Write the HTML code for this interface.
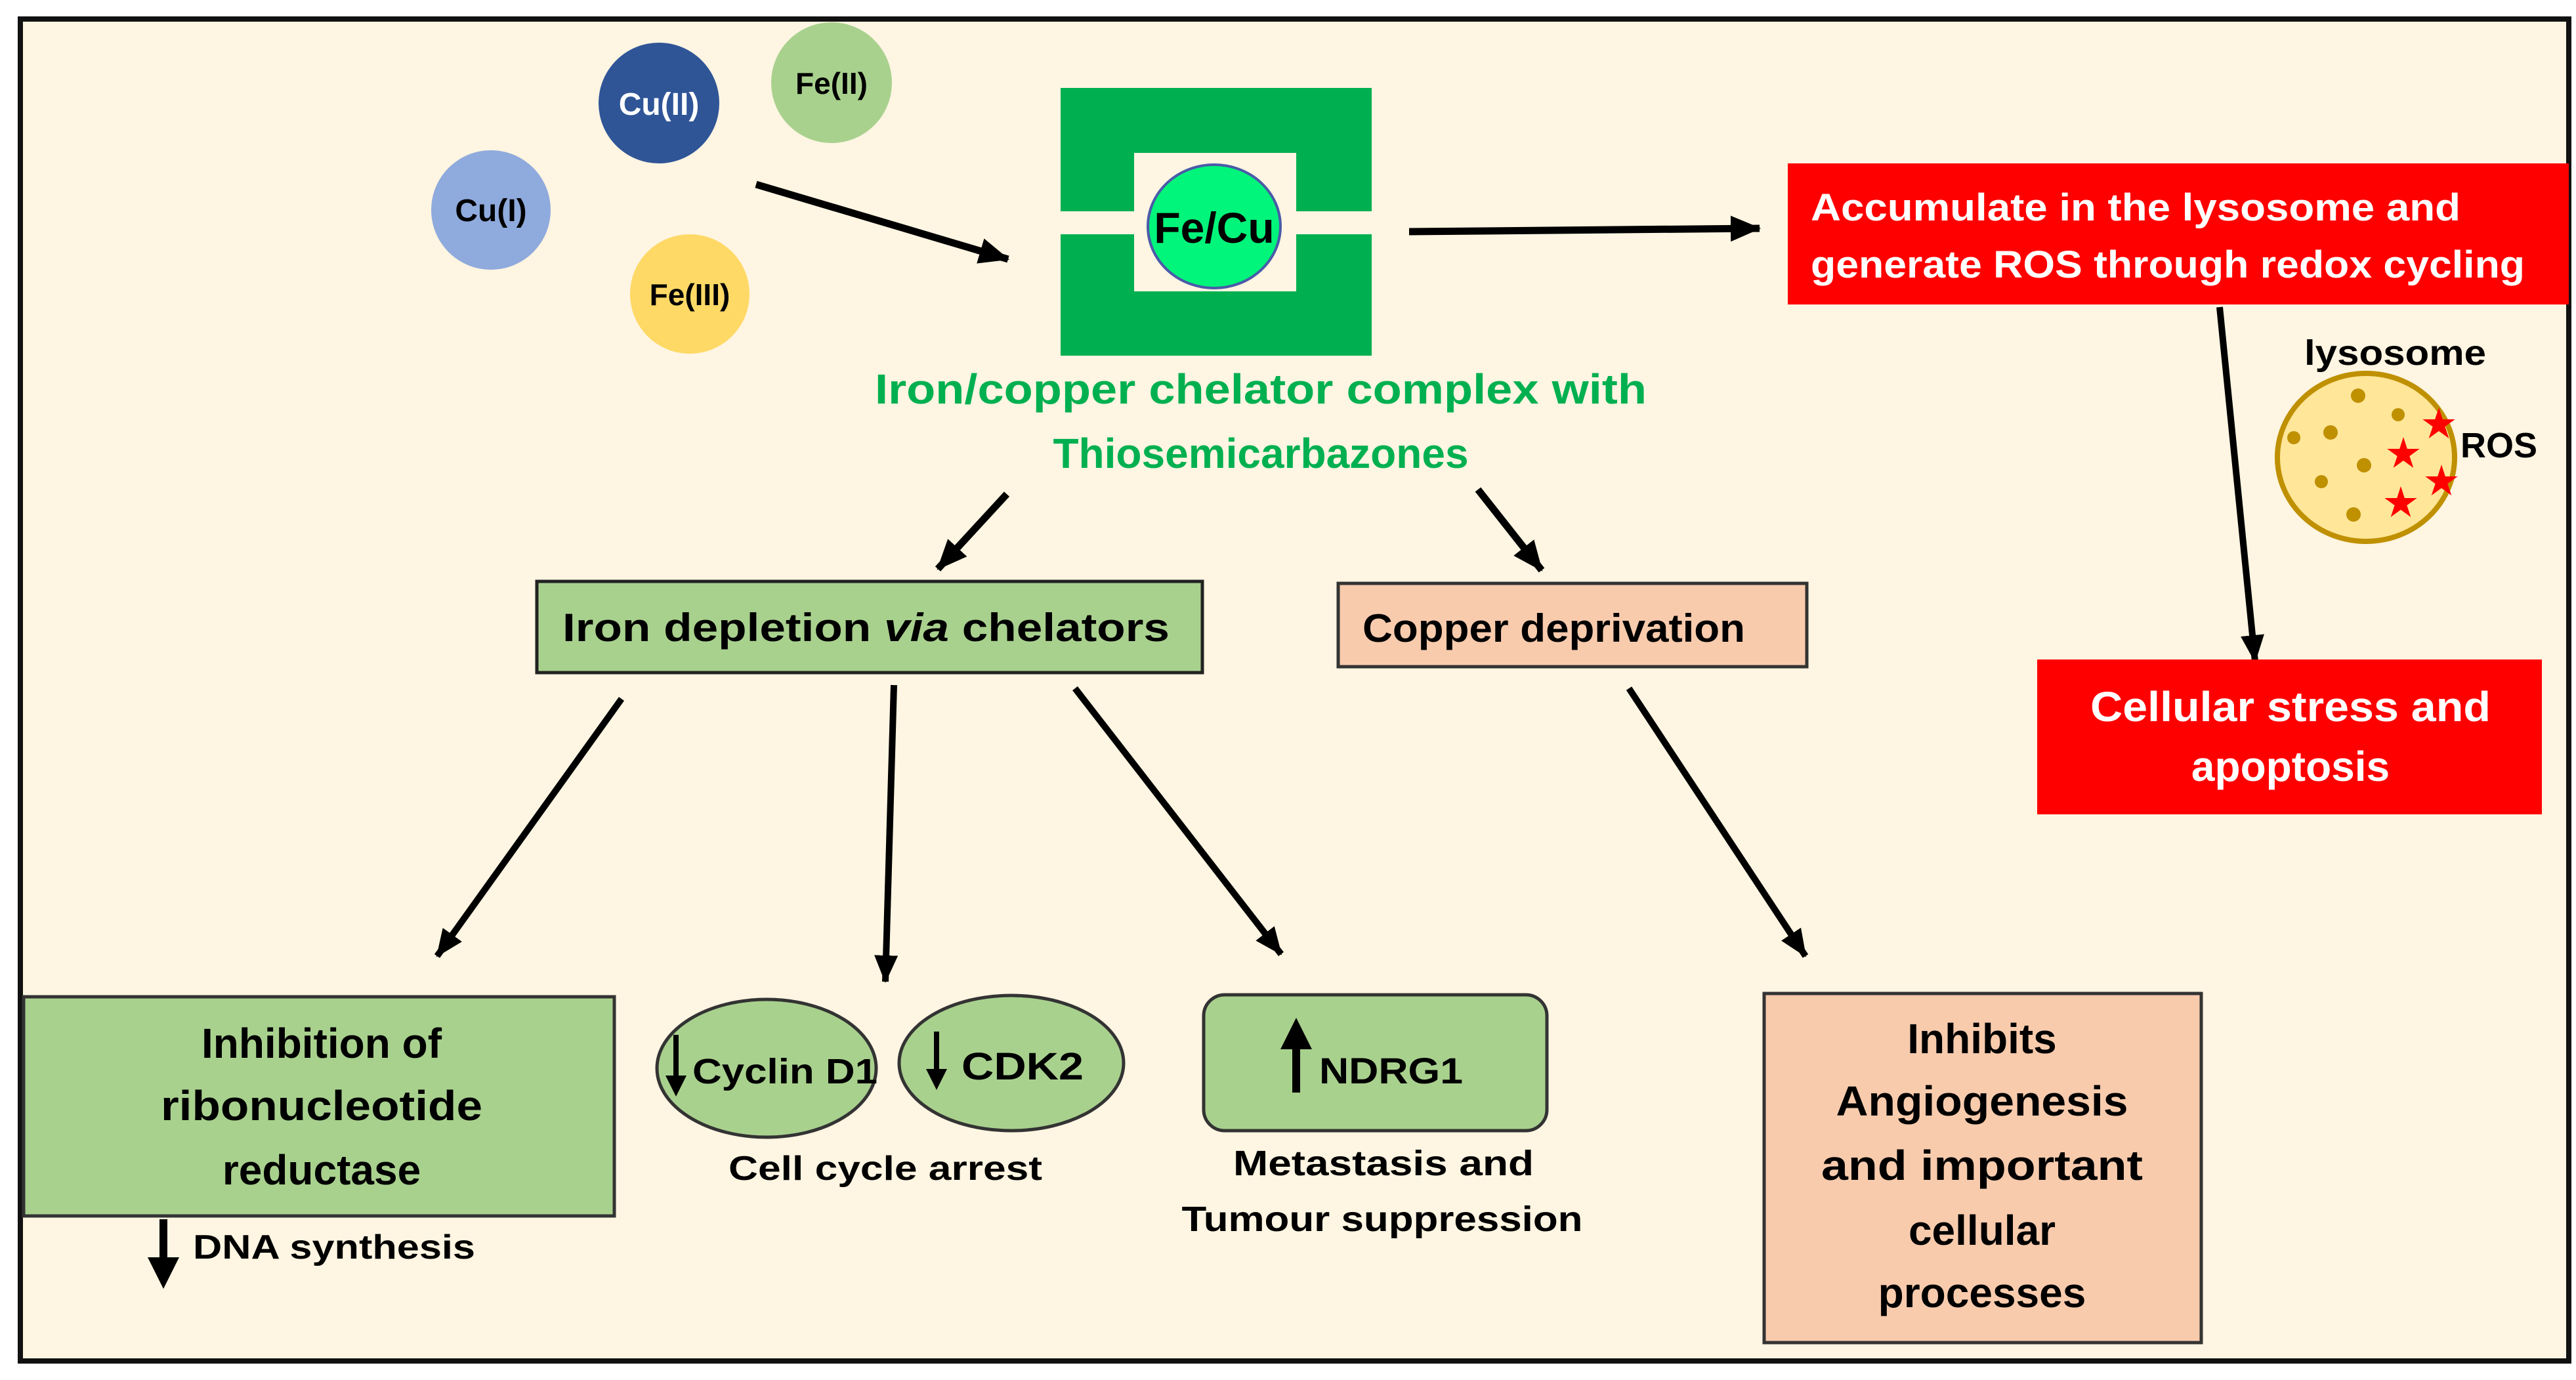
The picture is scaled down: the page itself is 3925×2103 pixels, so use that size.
<!DOCTYPE html>
<html><head><meta charset="utf-8"><style>
html,body{margin:0;padding:0;background:#fff}
svg{display:block}
text{font-family:"Liberation Sans",sans-serif;font-weight:bold}
</style></head><body>
<svg width="3925" height="2103" viewBox="0 0 3925 2103" xmlns="http://www.w3.org/2000/svg">
<defs>
<marker id="ah" markerWidth="4.2" markerHeight="3.6" refX="4" refY="1.8" orient="auto" markerUnits="strokeWidth">
<path d="M0,0 L4.2,1.8 L0,3.6 Z" fill="#000"/></marker>
<marker id="ah2" markerWidth="4" markerHeight="4" refX="2" refY="2" orient="auto" markerUnits="strokeWidth">
<path d="M0,0 L4,2 L0,4 Z" fill="#000"/></marker>
</defs>
<rect x="0" y="0" width="3925" height="2103" fill="#fff"/>
<rect x="31" y="29" width="3883" height="2045" fill="#fef5e2" stroke="#111" stroke-width="8"/>

<!-- ions -->
<circle cx="1004" cy="157" r="92" fill="#2f5597"/>
<text x="1004" y="175" font-size="48" fill="#fff" text-anchor="middle">Cu(II)</text>
<circle cx="1267" cy="126" r="92" fill="#a9d18e"/>
<text x="1267" y="143" font-size="46" fill="#000" text-anchor="middle">Fe(II)</text>
<circle cx="748" cy="320" r="91" fill="#8faadc"/>
<text x="748" y="337" font-size="48" fill="#000" text-anchor="middle">Cu(I)</text>
<circle cx="1051" cy="448" r="91" fill="#ffd966"/>
<text x="1051" y="465" font-size="46" fill="#000" text-anchor="middle">Fe(III)</text>

<line x1="1152" y1="281" x2="1536" y2="395" stroke="#000" stroke-width="11" marker-end="url(#ah)"/>

<!-- chelator -->
<rect x="1616" y="134" width="474" height="408" fill="#00b050"/>
<rect x="1728" y="233" width="247" height="211" fill="#fef5e2"/>
<rect x="1616" y="322" width="112" height="35" fill="#fef5e2"/>
<rect x="1975" y="322" width="115" height="35" fill="#fef5e2"/>
<ellipse cx="1850" cy="345" rx="101" ry="94" fill="#00f57a" stroke="#4a5aa8" stroke-width="4"/>
<text x="1850" y="370" font-size="66" fill="#000" text-anchor="middle">Fe/Cu</text>

<text x="1333" y="615" font-size="64" fill="#00b050" textLength="1176" lengthAdjust="spacingAndGlyphs">Iron/copper chelator complex with</text>
<text x="1921" y="713" font-size="64" fill="#00b050" text-anchor="middle">Thiosemicarbazones</text>

<line x1="2147" y1="353" x2="2681" y2="348" stroke="#000" stroke-width="11" marker-end="url(#ah)"/>

<rect x="2724" y="249" width="1190" height="215" fill="#ff0000"/>
<text x="2759" y="336" font-size="58" fill="#fff" textLength="990" lengthAdjust="spacingAndGlyphs">Accumulate in the lysosome and</text>
<text x="2759" y="423" font-size="58" fill="#fff" textLength="1088" lengthAdjust="spacingAndGlyphs">generate ROS through redox cycling</text>

<line x1="3382" y1="468" x2="3436" y2="1008" stroke="#000" stroke-width="10" marker-end="url(#ah)"/>

<rect x="3104" y="1005" width="769" height="236" fill="#ff0000"/>
<text x="3490" y="1099" font-size="64" fill="#fff" text-anchor="middle" textLength="610" lengthAdjust="spacingAndGlyphs">Cellular stress and</text>
<text x="3490" y="1190" font-size="64" fill="#fff" text-anchor="middle">apoptosis</text>

<!-- lysosome -->
<text x="3511" y="556" font-size="54" fill="#000" textLength="277" lengthAdjust="spacingAndGlyphs">lysosome</text>
<ellipse cx="3605" cy="697" rx="135" ry="128" fill="#ffe699" stroke="#bf9000" stroke-width="8"/>
<g fill="#bf9000">
<circle cx="3593" cy="603" r="11"/><circle cx="3654" cy="632" r="10"/><circle cx="3495" cy="667" r="10"/>
<circle cx="3551" cy="659" r="11"/><circle cx="3602" cy="709" r="11"/><circle cx="3537" cy="734" r="10"/><circle cx="3586" cy="784" r="11"/>
</g>
<g fill="#ff0000">
<path transform="translate(3716,647) scale(26)" d="M0,-1 L0.225,-0.31 L0.95,-0.31 L0.36,0.12 L0.59,0.81 L0,0.38 L-0.59,0.81 L-0.36,0.12 L-0.95,-0.31 L-0.225,-0.31Z"/>
<path transform="translate(3662,692) scale(26)" d="M0,-1 L0.225,-0.31 L0.95,-0.31 L0.36,0.12 L0.59,0.81 L0,0.38 L-0.59,0.81 L-0.36,0.12 L-0.95,-0.31 L-0.225,-0.31Z"/>
<path transform="translate(3720,734) scale(26)" d="M0,-1 L0.225,-0.31 L0.95,-0.31 L0.36,0.12 L0.59,0.81 L0,0.38 L-0.59,0.81 L-0.36,0.12 L-0.95,-0.31 L-0.225,-0.31Z"/>
<path transform="translate(3658,767) scale(26)" d="M0,-1 L0.225,-0.31 L0.95,-0.31 L0.36,0.12 L0.59,0.81 L0,0.38 L-0.59,0.81 L-0.36,0.12 L-0.95,-0.31 L-0.225,-0.31Z"/>
</g>
<text x="3749" y="697" font-size="54" fill="#000">ROS</text>

<!-- arrows from title -->
<line x1="1534" y1="753" x2="1429" y2="867" stroke="#000" stroke-width="11" marker-end="url(#ah)"/>
<line x1="2252" y1="746" x2="2349" y2="869" stroke="#000" stroke-width="11" marker-end="url(#ah)"/>

<rect x="818" y="886" width="1014" height="139" fill="#a9d18e" stroke="#222" stroke-width="5"/>
<text x="857" y="977" font-size="60" fill="#000" textLength="925" lengthAdjust="spacingAndGlyphs">Iron depletion <tspan font-style="italic">via</tspan> chelators</text>

<rect x="2039" y="889" width="714" height="127" fill="#f8cbad" stroke="#333" stroke-width="5"/>
<text x="2076" y="978" font-size="60" fill="#000" textLength="583" lengthAdjust="spacingAndGlyphs">Copper deprivation</text>

<!-- lower arrows -->
<line x1="947" y1="1065" x2="666" y2="1457" stroke="#000" stroke-width="10" marker-end="url(#ah)"/>
<line x1="1362" y1="1044" x2="1349" y2="1496" stroke="#000" stroke-width="10" marker-end="url(#ah)"/>
<line x1="1638" y1="1049" x2="1952" y2="1454" stroke="#000" stroke-width="10" marker-end="url(#ah)"/>
<line x1="2482" y1="1049" x2="2751" y2="1457" stroke="#000" stroke-width="10" marker-end="url(#ah)"/>

<!-- bottom nodes -->
<rect x="36" y="1519" width="900" height="334" fill="#a9d18e" stroke="#333" stroke-width="5"/>
<text x="490" y="1612" font-size="64" fill="#000" text-anchor="middle">Inhibition of</text>
<text x="490" y="1707" font-size="64" fill="#000" text-anchor="middle" textLength="490" lengthAdjust="spacingAndGlyphs">ribonucleotide</text>
<text x="490" y="1805" font-size="64" fill="#000" text-anchor="middle">reductase</text>
<line x1="249" y1="1858" x2="249" y2="1940" stroke="#000" stroke-width="12" marker-end="url(#ah2)"/>
<text x="294" y="1918" font-size="52" fill="#000" textLength="430" lengthAdjust="spacingAndGlyphs">DNA synthesis</text>

<ellipse cx="1168" cy="1628" rx="167" ry="105" fill="#a9d18e" stroke="#333" stroke-width="5"/>
<ellipse cx="1541" cy="1620" rx="171" ry="103" fill="#a9d18e" stroke="#333" stroke-width="5"/>
<line x1="1030" y1="1577" x2="1030" y2="1655" stroke="#000" stroke-width="8" marker-end="url(#ah2)"/>
<text x="1055" y="1651" font-size="54" fill="#000" textLength="282" lengthAdjust="spacingAndGlyphs">Cyclin D1</text>
<line x1="1427" y1="1572" x2="1427" y2="1645" stroke="#000" stroke-width="8" marker-end="url(#ah2)"/>
<text x="1465" y="1645" font-size="58" fill="#000" textLength="186" lengthAdjust="spacingAndGlyphs">CDK2</text>
<text x="1349" y="1798" font-size="52" fill="#000" text-anchor="middle" textLength="478" lengthAdjust="spacingAndGlyphs">Cell cycle arrest</text>

<rect x="1834" y="1516" width="523" height="207" rx="32" fill="#a9d18e" stroke="#333" stroke-width="5"/>
<line x1="1975" y1="1665" x2="1975" y2="1575" stroke="#000" stroke-width="12" marker-end="url(#ah2)"/>
<text x="2010" y="1651" font-size="56" fill="#000" textLength="219" lengthAdjust="spacingAndGlyphs">NDRG1</text>
<text x="2108" y="1791" font-size="54" fill="#000" text-anchor="middle" textLength="458" lengthAdjust="spacingAndGlyphs">Metastasis and</text>
<text x="2106" y="1876" font-size="54" fill="#000" text-anchor="middle" textLength="611" lengthAdjust="spacingAndGlyphs">Tumour suppression</text>

<rect x="2688" y="1514" width="666" height="532" fill="#f8cbad" stroke="#333" stroke-width="5"/>
<text x="3020" y="1605" font-size="64" fill="#000" text-anchor="middle">Inhibits</text>
<text x="3020" y="1700" font-size="64" fill="#000" text-anchor="middle" textLength="445" lengthAdjust="spacingAndGlyphs">Angiogenesis</text>
<text x="3020" y="1798" font-size="64" fill="#000" text-anchor="middle" textLength="490" lengthAdjust="spacingAndGlyphs">and important</text>
<text x="3020" y="1897" font-size="64" fill="#000" text-anchor="middle">cellular</text>
<text x="3020" y="1992" font-size="64" fill="#000" text-anchor="middle">processes</text>
</svg>
</body></html>
